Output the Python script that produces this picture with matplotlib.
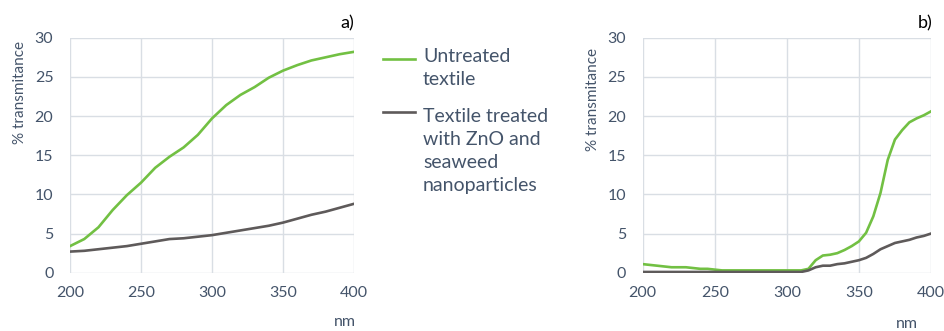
import numpy as np
import matplotlib.pyplot as plt
from matplotlib.lines import Line2D

plt.rcParams['font.family'] = ['Lato', 'DejaVu Sans']

# Wavelength grid (nm) and % transmitance read at 10 nm steps, fabric a)
wl_a = np.arange(200, 401, 10)
untreated_a = [3.4, 4.3, 5.8, 8.0, 9.9, 11.5, 13.4, 14.8, 16.0, 17.6, 19.7,
               21.4, 22.7, 23.7, 24.9, 25.8, 26.5, 27.1, 27.5, 27.9, 28.2]
treated_a = [2.7, 2.8, 3.0, 3.2, 3.4, 3.7, 4.0, 4.3, 4.4, 4.6, 4.8,
             5.1, 5.4, 5.7, 6.0, 6.4, 6.9, 7.4, 7.8, 8.3, 8.8]

# Fabric b), read at 5 nm steps
wl_b = np.arange(200, 401, 5)
untreated_b = [1.1, 1.0, 0.9, 0.8, 0.7, 0.7, 0.7, 0.6, 0.5, 0.5, 0.4,
               0.3, 0.3, 0.3, 0.3, 0.3, 0.3, 0.3, 0.3, 0.3, 0.3, 0.3, 0.3,
               0.5, 1.6, 2.2, 2.3, 2.5, 2.9, 3.4, 4.0, 5.1, 7.2, 10.2, 14.4,
               17.0, 18.2, 19.2, 19.7, 20.1, 20.6]
treated_b = [0.1] * 23 + [0.3, 0.7, 0.9, 0.9, 1.1, 1.2, 1.4, 1.6, 1.9,
                          2.4, 3.0, 3.4, 3.8, 4.0, 4.2, 4.5, 4.7, 5.0]

labels = ["Untreated\ntextile", "Textile treated\nwith ZnO and\nseaweed\nnanoparticles"]
green = "#72C043"
gray = "#5E5A5A"
txt = "#44546A"
grid = "#D9DEE4"

fig = plt.figure(figsize=(9.44, 3.31), dpi=100)
ax_a = fig.add_axes([0.0742, 0.176, 0.3008, 0.710])
ax_b = fig.add_axes([0.6808, 0.176, 0.3054, 0.710])

for ax, wl, u, t in [(ax_a, wl_a, untreated_a, treated_a),
                     (ax_b, wl_b, untreated_b, treated_b)]:
    ax.plot(wl, u, color=green, lw=1.9, zorder=3)
    ax.plot(wl, t, color=gray, lw=1.9, zorder=3)
    ax.set_xlim(200, 400)
    ax.set_ylim(0, 30)
    ax.set_xticks(np.arange(200, 401, 50))
    ax.set_yticks(np.arange(0, 31, 5))
    ax.grid(True, color=grid, lw=1)
    for s in ax.spines.values():
        s.set_visible(False)
    ax.tick_params(length=0, labelsize=11.5, labelcolor=txt)
    ax.tick_params(axis="x", pad=9.5)
    ax.tick_params(axis="y", pad=12)

fig.text(0.0212, 0.722, "% transmitance", rotation=90, color=txt,
         fontsize=11, ha="center", va="center")
fig.text(0.628, 0.698, "% transmitance", rotation=90, color=txt,
         fontsize=11, ha="center", va="center")
fig.text(0.3655, 0.027, "nm", color=txt, fontsize=11.5, ha="center", va="center")
fig.text(0.961, 0.022, "nm", color=txt, fontsize=11.5, ha="center", va="center")
fig.text(0.3676, 0.93, "a)", color="black", fontsize=13, ha="center", va="center")
fig.text(0.98, 0.93, "b)", color="black", fontsize=13, ha="center", va="center")

# legend drawn by hand between the two panels
for col, lab, ly, ty in [(green, labels[0], 0.8218, 0.855),
                         (gray, labels[1], 0.6616, 0.674)]:
    fig.add_artist(Line2D([0.4057, 0.4396], [ly, ly], color=col, lw=1.9,
                          transform=fig.transFigure))
    fig.text(0.448, ty, lab, color=txt, fontsize=14, ha="left", va="top",
             linespacing=1.42)

fig.savefig("out.png", dpi=100)
